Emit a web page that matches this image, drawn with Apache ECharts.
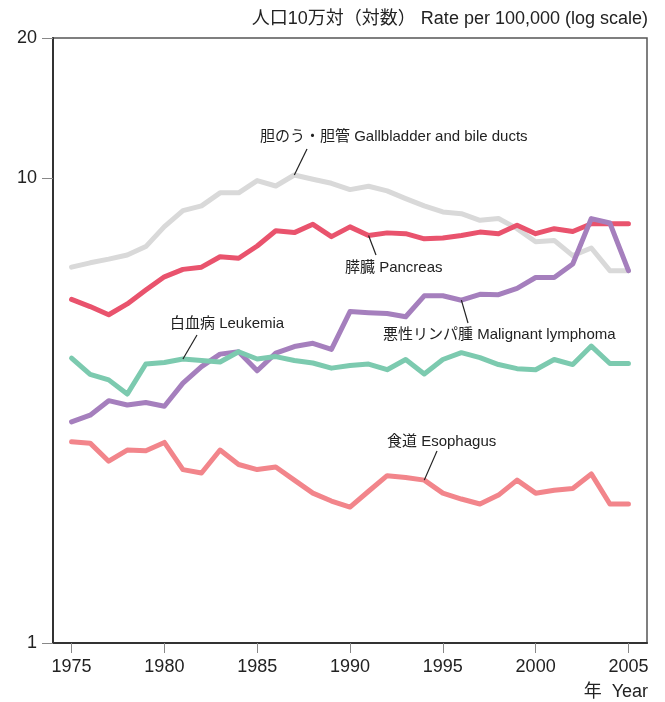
<!DOCTYPE html>
<html>
<head>
<meta charset="utf-8">
<script src="https://cdn.jsdelivr.net/npm/echarts@6/dist/echarts.min.js"></script>
<style>
  html, body { margin: 0; padding: 0; background: #fff; }
  #chart { width: 665px; height: 702px; }
</style>
</head>
<body>
<div id="chart"></div>
<script>
// 年
const years = [1975, 1976, 1977, 1978, 1979, 1980, 1981, 1982, 1983, 1984, 1985, 1986, 1987, 1988, 1989, 1990,
  1991, 1992, 1993, 1994, 1995, 1996, 1997, 1998, 1999, 2000, 2001, 2002, 2003, 2004, 2005];

// 人口10万対
const gallbladder = [6.43, 6.57, 6.69, 6.83, 7.12, 7.86, 8.51, 8.71, 9.29, 9.29, 9.87, 9.61, 10.15, 9.94, 9.74, 9.44,
  9.60, 9.38, 9.03, 8.71, 8.45, 8.38, 8.11, 8.18, 7.78, 7.29, 7.34, 6.81, 7.07, 6.32, 6.32];
const pancreas = [5.48, 5.29, 5.08, 5.36, 5.74, 6.13, 6.36, 6.43, 6.77, 6.72, 7.14, 7.70, 7.63, 7.95, 7.48, 7.85,
  7.52, 7.62, 7.59, 7.40, 7.43, 7.52, 7.65, 7.59, 7.91, 7.59, 7.78, 7.67, 7.97, 7.97, 7.97];
const lymphoma = [2.99, 3.09, 3.32, 3.25, 3.29, 3.23, 3.62, 3.93, 4.18, 4.23, 3.85, 4.20, 4.34, 4.41, 4.28, 5.16,
  5.13, 5.11, 5.03, 5.58, 5.58, 5.46, 5.62, 5.61, 5.79, 6.11, 6.11, 6.53, 8.18, 8.00, 6.32];
const leukemia = [4.10, 3.78, 3.68, 3.43, 3.98, 4.01, 4.08, 4.05, 4.02, 4.23, 4.08, 4.13, 4.05, 4.00, 3.90, 3.95,
  3.98, 3.87, 4.07, 3.79, 4.07, 4.21, 4.11, 3.97, 3.89, 3.87, 4.07, 3.97, 4.35, 3.99, 3.99];
const esophagus = [2.71, 2.69, 2.46, 2.60, 2.59, 2.70, 2.36, 2.32, 2.60, 2.42, 2.36, 2.39, 2.24, 2.10, 2.02, 1.96,
  2.12, 2.29, 2.27, 2.24, 2.10, 2.04, 1.99, 2.08, 2.24, 2.10, 2.13, 2.15, 2.31, 1.99, 1.99];

// 目盛り
const xTicks = [1975, 1980, 1985, 1990, 1995, 2000, 2005];
const yTicks = [1, 10, 20];

const FONT = '"Liberation Sans", Arial, "Noto Sans CJK JP", sans-serif';

const chart = echarts.init(document.getElementById('chart'));

function pairs(vals) {
  return years.map((y, i) => [y, vals[i]]);
}

function line(name, vals, color) {
  return {
    name: name,
    type: 'line',
    data: pairs(vals),
    symbol: 'none',
    lineStyle: { color: color, width: 5, join: 'round', cap: 'round' },
    z: 2
  };
}

chart.setOption({
  animation: false,
  textStyle: { fontFamily: FONT },
  grid: {
    left: 53, right: 18, top: 38, bottom: 59,
    show: true, borderColor: '#555', borderWidth: 1.5
  },
  xAxis: {
    type: 'value',
    min: 1974,
    max: 2006,
    splitLine: { show: false },
    axisLine: { onZero: false, lineStyle: { color: '#333', width: 2 } },
    axisTick: { customValues: xTicks, length: 10, lineStyle: { color: '#888', width: 1 } },
    axisLabel: {
      customValues: xTicks, color: '#222', fontSize: 18, margin: 15, fontFamily: FONT,
      formatter: v => String(v)
    }
  },
  yAxis: {
    type: 'log',
    logBase: 10,
    min: 1,
    max: 20,
    splitLine: { show: false },
    axisLine: { show: true, lineStyle: { color: '#333', width: 2 } },
    axisTick: { show: true, customValues: yTicks, length: 11, lineStyle: { color: '#888', width: 1 } },
    axisLabel: { customValues: yTicks, color: '#222', fontSize: 18, margin: 16, fontFamily: FONT }
  },
  series: [
    line('胆のう・胆管', gallbladder, '#d9d9d9'),
    line('膵臓', pancreas, '#e9536d'),
    line('悪性リンパ腫', lymphoma, '#a57fbd'),
    line('白血病', leukemia, '#7ccaaf'),
    line('食道', esophagus, '#f2858b')
  ]
});

// 注記（引き出し線は系列の点から）
const notes = [
  { text: '胆のう・胆管 Gallbladder and bile ducts', vals: gallbladder, year: 1987, lineTo: [307, 149], textAt: [260, 137] },
  { text: '膵臓 Pancreas', vals: pancreas, year: 1991, lineTo: [376, 255], textAt: [345, 268] },
  { text: '白血病 Leukemia', vals: leukemia, year: 1981, lineTo: [197, 335], textAt: [170, 324] },
  { text: '悪性リンパ腫 Malignant lymphoma', vals: lymphoma, year: 1996, lineTo: [468, 323], textAt: [383, 335] },
  { text: '食道 Esophagus', vals: esophagus, year: 1994, lineTo: [437, 451], textAt: [387, 442] }
];

const graphics = [];
notes.forEach(n => {
  const p = chart.convertToPixel({ gridIndex: 0 }, [n.year, n.vals[years.indexOf(n.year)]]);
  graphics.push({
    type: 'line',
    shape: { x1: p[0], y1: p[1], x2: n.lineTo[0], y2: n.lineTo[1] },
    style: { stroke: '#222', lineWidth: 1.2 },
    z: 10
  });
  graphics.push({
    type: 'text',
    x: n.textAt[0], y: n.textAt[1],
    style: { text: n.text, font: '15px ' + FONT, fill: '#222', textVerticalAlign: 'middle' },
    z: 10
  });
});

graphics.push({
  type: 'text', x: 648, y: 19,
  style: { text: '人口10万対（対数） Rate per 100,000 (log scale)', font: '18px ' + FONT, fill: '#222',
    textAlign: 'right', textVerticalAlign: 'middle' }
});
graphics.push({
  type: 'text', x: 648, y: 692,
  style: { text: '年  Year', font: '18px ' + FONT, fill: '#222', textAlign: 'right', textVerticalAlign: 'middle' }
});

chart.setOption({ graphic: graphics });
</script>
</body>
</html>
